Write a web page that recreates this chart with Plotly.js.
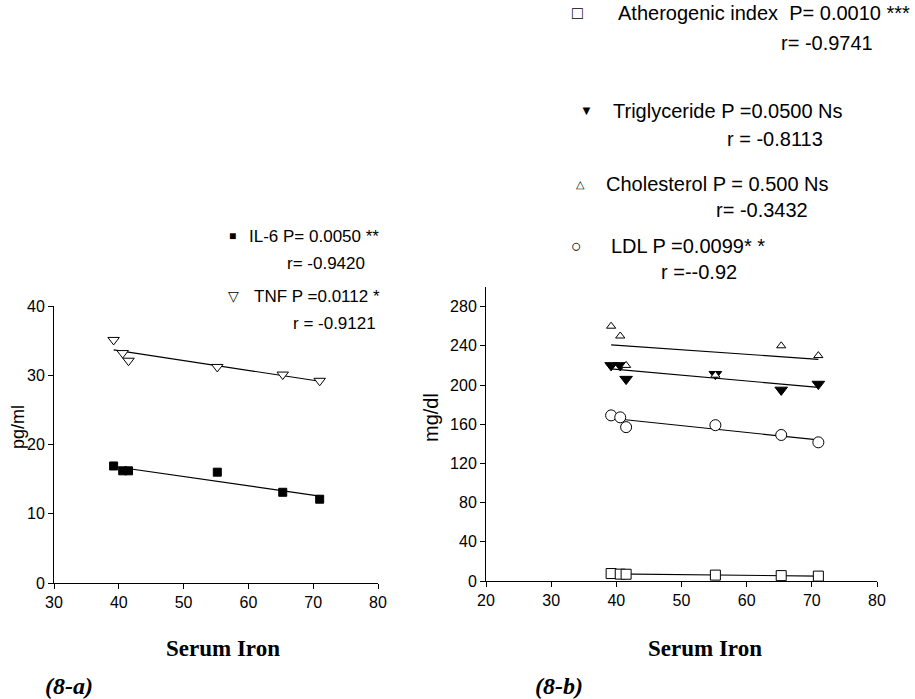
<!DOCTYPE html>
<html>
<head>
<meta charset="utf-8">
<script src="https://cdn.plot.ly/plotly-3.0.1.min.js"></script>
<style>
  html, body { margin: 0; padding: 0; background: #fff; }
  #chart { width: 915px; height: 699px; }
</style>
</head>
<body>
<div id="chart"></div>
<script>
// Serum iron of the six subjects (shared x values)
const serumIron = [39.2, 40.6, 41.5, 55.2, 65.3, 71.0];

// Panel 8-a: cytokines (pg/ml)
const il6 = [16.9, 16.2, 16.2, 16.0, 13.1, 12.1];
const tnf = [35.1, 33.2, 32.1, 31.2, 30.1, 29.2];

// Panel 8-b: lipid profile (mg/dl)
const atherogenic = [7.6, 7.0, 6.9, 6.0, 5.5, 5.0];
const triglyceride = [220, 220, 206, 211, 195, 201];
const cholesterol = [260, 250, 220, 210, 240, 230];
const ldl = [169, 167, 157, 159, 149, 141.5];

// Legend texts
const leftNames = ['IL-6 P= 0.0050 **', 'TNF P =0.0112 *'];
const leftR = ['r= -0.9420', 'r = -0.9121'];
const rightNames = ['Atherogenic index \u00a0P= 0.0010 ***', 'Triglyceride P =0.0500 Ns', 'Cholesterol P = 0.500 Ns', 'LDL P =0.0099* *'];
const rightR = ['r= -0.9741', 'r = -0.8113', 'r= -0.3432', 'r =--0.92'];

const xTitle = 'Serum Iron';
const panelTags = ['(8-a)', '(8-b)'];

const W = 915, H = 699;
const px = v => v / W;
const py = v => 1 - v / H;

// least-squares fit line across the observed x span
function fitLine(x, y, xa, ya) {
  const n = x.length;
  const mx = x.reduce((a, b) => a + b, 0) / n;
  const my = y.reduce((a, b) => a + b, 0) / n;
  let sxy = 0, sxx = 0;
  for (let i = 0; i < n; i++) { sxy += (x[i] - mx) * (y[i] - my); sxx += (x[i] - mx) ** 2; }
  const b = sxy / sxx, a = my - b * mx;
  const x0 = Math.min(...x), x1 = Math.max(...x);
  return { x: [x0, x1], y: [a + b * x0, a + b * x1], mode: 'lines', xaxis: xa, yaxis: ya,
           line: { color: '#000', width: 1.2 }, hoverinfo: 'skip', showlegend: false };
}

function pts(y, xa, ya, symbol, size, fill) {
  return { x: serumIron, y: y, mode: 'markers', xaxis: xa, yaxis: ya, showlegend: false,
           marker: { symbol: symbol, size: size, color: fill, line: { color: '#000', width: 1 } } };
}

const traces = [
  fitLine(serumIron, il6, 'x', 'y'),
  fitLine(serumIron, tnf, 'x', 'y'),
  pts(il6, 'x', 'y', 'square', 8, '#000'),
  pts(tnf, 'x', 'y', 'triangle-down', 10, '#fff'),

  fitLine(serumIron, ldl, 'x2', 'y2'),
  fitLine(serumIron, triglyceride, 'x2', 'y2'),
  fitLine(serumIron, cholesterol, 'x2', 'y2'),
  fitLine(serumIron, atherogenic, 'x2', 'y2'),
  pts(ldl, 'x2', 'y2', 'circle', 11, '#fff'),
  pts(triglyceride, 'x2', 'y2', 'triangle-down', 11, '#000'),
  pts(cholesterol, 'x2', 'y2', 'triangle-up', 8, '#fff'),
  pts(atherogenic, 'x2', 'y2', 'square', 10, '#fff')
];

const tickFont = { family: 'Liberation Sans, Arial, sans-serif', size: 16, color: '#000' };
const axisBase = {
  showline: true, linecolor: '#000', linewidth: 1, showgrid: false, zeroline: false,
  ticks: 'outside', ticklen: 5, tickcolor: '#000', tickwidth: 1, tickfont: tickFont,
  fixedrange: true
};

const sans = 'Liberation Sans, Arial, sans-serif';
const serif = 'Liberation Serif, Times New Roman, serif';

function note(text, x, y, size, extra) {
  return Object.assign({ text: text, x: px(x), y: py(y), xref: 'paper', yref: 'paper',
    xanchor: 'left', yanchor: 'middle', showarrow: false,
    font: { family: sans, size: size, color: '#000' } }, extra || {});
}

const annotations = [
  // left legend
  note('\u25A0', 227, 236, 12),
  note(leftNames[0], 247, 236, 17),
  note(leftR[0], 285, 263, 17),
  note('\u25BD', 226, 296, 14),
  note(leftNames[1], 252, 296, 17),
  note(leftR[1], 291, 323, 17),
  // right legend
  note('\u25A1', 570, 13, 18),
  note(rightNames[0], 616, 13, 20),
  note(rightR[0], 779, 43, 20),
  note('\u25BC', 578, 111, 13),
  note(rightNames[1], 611, 111, 20),
  note(rightR[1], 725, 139, 20),
  note('\u25B3', 574, 184, 11),
  note(rightNames[2], 604, 184, 20),
  note(rightR[2], 714, 210, 20),
  note('\u25CB', 569, 246, 18),
  note(rightNames[3], 609, 246, 20),
  note(rightR[3], 659, 272, 20),
  // axis captions
  note(xTitle, 223, 648, 23, { xanchor: 'center', font: { family: serif, size: 23, color: '#000', weight: 'bold' } }),
  note(xTitle, 705, 648, 23, { xanchor: 'center', font: { family: serif, size: 23, color: '#000', weight: 'bold' } }),
  note('<b><i>' + panelTags[0] + '</i></b>', 43, 686, 24, { font: { family: serif, size: 24, color: '#000' } }),
  note('<b><i>' + panelTags[1] + '</i></b>', 533, 686, 24, { font: { family: serif, size: 24, color: '#000' } }),
  note('pg/ml', 18, 427, 18, { xanchor: 'center', textangle: -90 }),
  note('mg/dl', 431, 418, 20, { xanchor: 'center', textangle: -90 })
];

const layout = {
  width: W, height: H,
  margin: { l: 0, r: 0, t: 0, b: 0 },
  paper_bgcolor: '#fff', plot_bgcolor: 'rgba(0,0,0,0)',
  showlegend: false,
  xaxis: Object.assign({}, axisBase, { domain: [px(54), px(378)], range: [30, 80], dtick: 10, tick0: 0, anchor: 'y' }),
  yaxis: Object.assign({}, axisBase, { domain: [py(583), py(306)], range: [0, 40], dtick: 10, tick0: 0, anchor: 'x' }),
  xaxis2: Object.assign({}, axisBase, { domain: [px(486), px(877)], range: [20, 80], dtick: 10, tick0: 0, anchor: 'y2' }),
  yaxis2: Object.assign({}, axisBase, { domain: [py(581), py(287)], range: [0, 300], dtick: 40, tick0: 0, anchor: 'x2' }),
  annotations: annotations
};

Plotly.newPlot('chart', traces, layout, { staticPlot: true, displayModeBar: false });
</script>
</body>
</html>
